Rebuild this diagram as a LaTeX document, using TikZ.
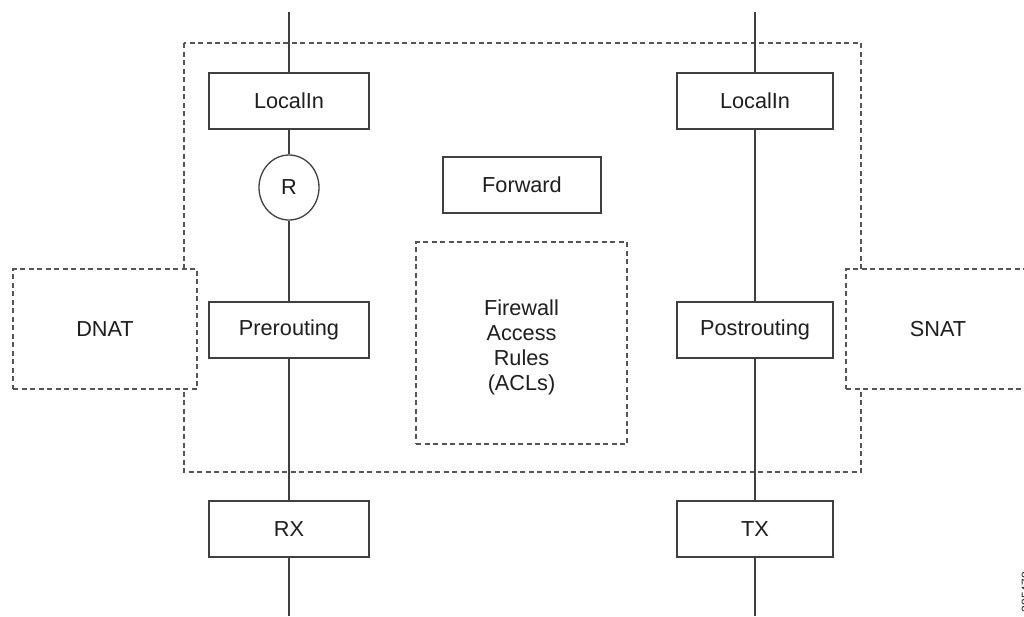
\documentclass[tikz,border=0pt]{standalone}
\usepackage{fontspec}
\setmainfont{Liberation Sans}
\usetikzlibrary{shapes.geometric}
\definecolor{linegray}{HTML}{404040}
\definecolor{dashgray}{HTML}{555555}
\definecolor{txt}{HTML}{1E1E1E}
\begin{document}
\begin{tikzpicture}[x=1pt,y=-1pt,
  every node/.style={text=txt,font=\fontsize{21.7}{25}\selectfont},
  block/.style={draw=linegray,line width=1.3pt,fill=white,minimum height=56pt,inner sep=0pt},
  wide/.style={block,minimum width=160pt},
  narrow/.style={block,minimum width=156pt},
  zone/.style={draw=dashgray,line width=1.3pt,dash pattern=on 5pt off 3.5pt},
  natzone/.style={zone,fill=white,minimum width=184pt,minimum height=120pt,inner sep=0pt},
  link/.style={draw=linegray,line width=1.4pt}]
\useasboundingbox (0,0) rectangle (1024,616);

% enclosing dashed region
\draw[zone] (184,43) rectangle (861,472);

% NAT stages on both sides
\node[natzone] (dnat) at (105,329) {DNAT};
\node[natzone] (snat) at (938,329) {SNAT};

% firewall rule area
\node[zone,minimum width=211pt,minimum height=202pt,inner sep=0pt] (acl) at (521.5,343) {};
\node[align=center,inner sep=0pt] (acltext) at (521.5,347)
  {Firewall\\Access\\Rules\\(ACLs)};

% left chain
\node[wide] (lin1) at (289,101) {LocalIn};
\node[draw=linegray,line width=1.3pt,fill=white,ellipse,minimum width=60pt,minimum height=65pt,inner sep=0pt] (r) at (289,187.5) {R};
\node[wide] (pre) at (289,330) {Prerouting};
\node[wide] (rx) at (289,529) {RX};

% right chain
\node[narrow] (lin2) at (755,101) {LocalIn};
\node[narrow] (post) at (755,330) {Postrouting};
\node[narrow] (tx) at (755,529) {TX};

\node[block,minimum width=158pt] (fwd) at (522,185) {Forward};

\coordinate (lt) at (289,12);
\coordinate (lb) at (289,616);
\coordinate (rt) at (755,12);
\coordinate (rb) at (755,616);

\draw[link] (lt) -- (lin1) -- (r) -- (pre) -- (rx) -- (lb);
\draw[link] (rt) -- (lin2) -- (post) -- (tx) -- (rb);

\node[font=\fontsize{12}{14}\selectfont,rotate=90] (fig) at (1026,592) {285478};
\end{tikzpicture}
\end{document}
